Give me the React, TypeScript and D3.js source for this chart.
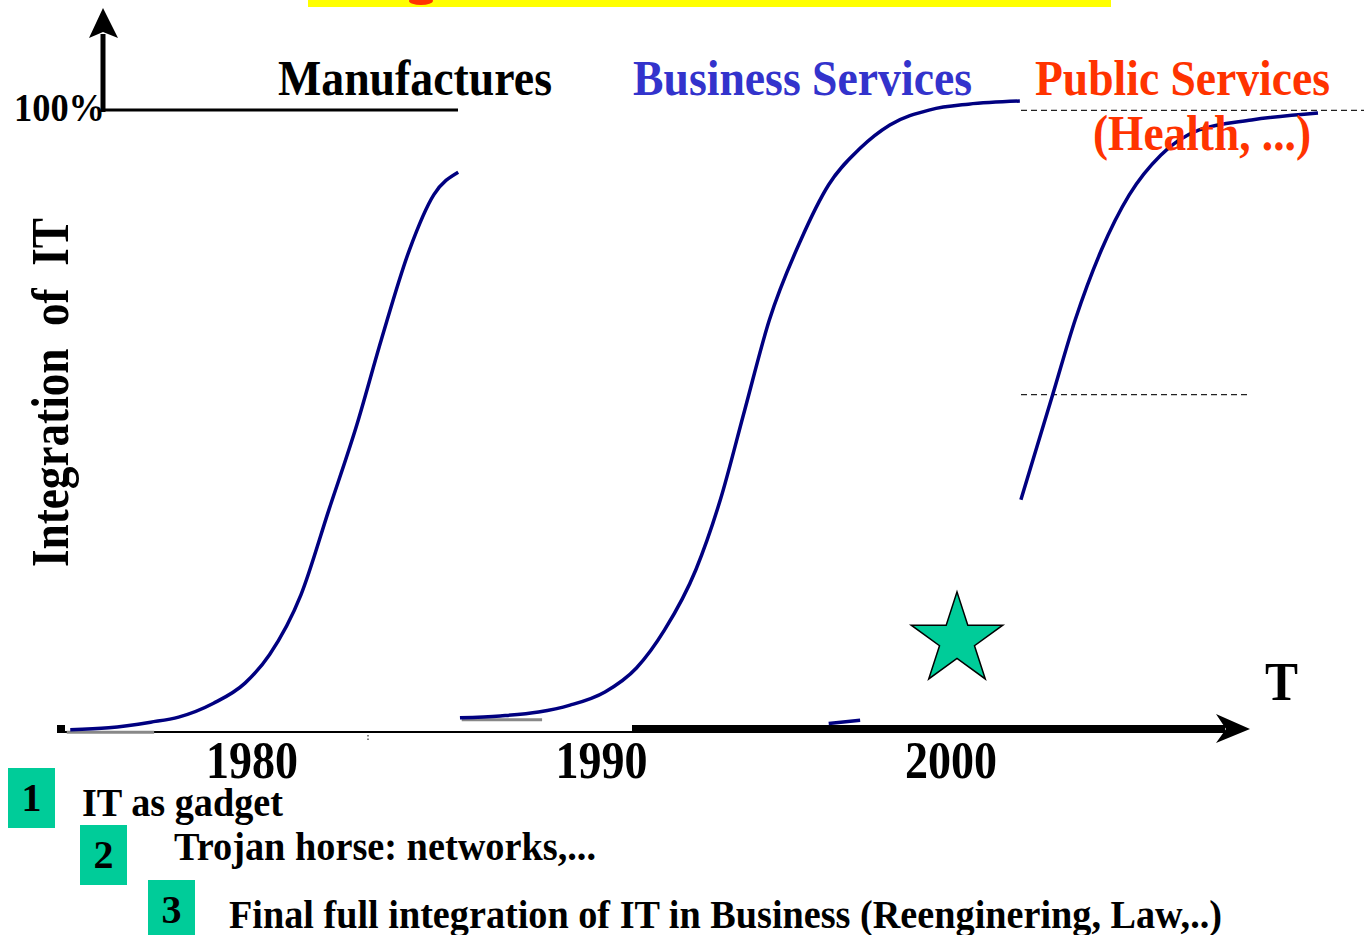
import React from 'react';
import * as d3 from 'd3';

// S-curves of IT integration (year, % integration)
const manufactures: [number, number][] = [
  [1974.8, 0.2], [1975.9, 0.5], [1977.1, 1.4], [1977.9, 2.2], [1978.9, 4.4],
  [1979.8, 7.6], [1980.5, 12.1], [1981.4, 21.6], [1982.2, 35.1], [1983.0, 48.6],
  [1983.7, 62.1], [1984.5, 76.3], [1985.2, 85.1], [1985.9, 88.7],
];
const businessServices: [number, number][] = [
  [1985.95, 2.1], [1987.1, 2.4], [1988.2, 3.0], [1989.1, 4.1], [1990.1, 6.2],
  [1991.0, 10.0], [1991.8, 16.0], [1992.7, 25.6], [1993.4, 36.7], [1994.1, 51.0],
  [1994.8, 65.2], [1995.7, 77.9], [1996.5, 86.7], [1997.4, 92.5], [1998.25, 96.2],
  [1999.4, 98.6], [2000.5, 99.5], [2001.97, 100],
];
const publicServicesTail: [number, number][] = [[1996.5, 1.2], [1997.4, 1.7]];
const publicServices: [number, number][] = [
  [2002.0, 36.7], [2002.9, 53.2], [2003.55, 65.2], [2004.3, 76.3], [2005.1, 85.1],
  [2006.0, 91.4], [2007.1, 95.4], [2008.6, 97.0], [2010.5, 98.1],
];
const shadows: [number, number][][] = [
  [[1974.7, -0.2], [1977.2, -0.2]],
  [[1986.0, 1.8], [1988.3, 1.8]],
];
const yearTicks = [1980, 1990, 2000];
const dashLevels = [{ v: 98.5, to: 2012.0 }, { v: 53.4, to: 2008.5 }];
const steps = [
  { n: '1', text: 'IT as gadget' },
  { n: '2', text: 'Trojan horse: networks,...' },
  { n: '3', text: 'Final full integration of IT in Business (Reenginering, Law,..)' },
];

const FONT = "'Liberation Serif', 'Times New Roman', Times, serif";

export default function App() {
  const x = d3.scaleLinear().domain([1980, 2000]).range([252, 951]);
  const y = d3.scaleLinear().domain([0, 100]).range([731, 101]);
  const line = d3.line<[number, number]>()
    .x(d => x(d[0]))
    .y(d => y(d[1]))
    .curve(d3.curveMonotoneX);

  const star = d3.symbol().type(d3.symbolStar).size(2600)() as string;

  const stepLayout = [
    { bx: 8, by: 768, tx: 82, ty: 816, len: 201 },
    { bx: 80, by: 825, tx: 174, ty: 860, len: 422 },
    { bx: 148, by: 880, tx: 229, ty: 928, len: 993 },
  ];

  return (
    <svg width={1364} height={935}
      style={{ position: 'absolute', left: 0, top: 0, background: '#fff', fontFamily: FONT, fontWeight: 'bold' }}>
      {/* cut-off title bar */}
      <rect x={308} y={0} width={803} height={7} fill="#ffff00" />
      <ellipse cx={421} cy={1} rx={12} ry={4} fill="#ff3300" />

      {/* y axis arrow and 100% line */}
      <line x1={103} x2={103} y1={112} y2={34} stroke="#000" strokeWidth={5} />
      <path d="M103,8 L89,38 L103,32 L118,38 Z" fill="#000" />
      <line x1={101} x2={458} y1={110} y2={110} stroke="#000" strokeWidth={3} />
      <text x={14} y={121} fontSize={40} textLength={91} lengthAdjust="spacingAndGlyphs">100%</text>

      {/* dashed reference levels */}
      {dashLevels.map((d, i) => (
        <line key={i} x1={1021} x2={x(d.to)} y1={y(d.v)} y2={y(d.v)}
          stroke="#222" strokeWidth={1.2} strokeDasharray="6,4" />
      ))}

      {/* x axis */}
      <rect x={57} y={725} width={8} height={8} fill="#000" />
      <line x1={58} x2={632} y1={732} y2={732} stroke="#000" strokeWidth={2} />
      <line x1={632} x2={1225} y1={729} y2={729} stroke="#000" strokeWidth={8} />
      <path d="M1250,729 L1216,714 L1226,729 L1216,743 Z" fill="#000" />
      <line x1={368} x2={368} y1={735} y2={741} stroke="#000" strokeWidth={1} strokeDasharray="1.5,2" />

      {/* curves */}
      {shadows.map((s, i) => (
        <path key={i} d={line(s) as string} fill="none" stroke="#888" strokeWidth={3} />
      ))}
      {[manufactures, businessServices, publicServicesTail, publicServices].map((c, i) => (
        <path key={i} d={line(c) as string} fill="none" stroke="#000080" strokeWidth={3.5} />
      ))}

      {/* series labels */}
      <text x={278} y={95} fontSize={50} textLength={274} lengthAdjust="spacingAndGlyphs" fill="#000">Manufactures</text>
      <text x={633} y={95} fontSize={50} textLength={339} lengthAdjust="spacingAndGlyphs" fill="#3333cc">Business Services</text>
      <text x={1035} y={95} fontSize={50} textLength={295} lengthAdjust="spacingAndGlyphs" fill="#ff3300">Public Services</text>
      <text x={1093} y={150} fontSize={50} textLength={218} lengthAdjust="spacingAndGlyphs" fill="#ff3300">(Health, ...)</text>

      {/* axis titles */}
      <text transform="translate(68,567) rotate(-90)" fontSize={52} textLength={349}
        lengthAdjust="spacingAndGlyphs" xmlSpace="preserve">Integration  of  IT</text>
      <text x={1265} y={700} fontSize={55} textLength={33} lengthAdjust="spacingAndGlyphs">T</text>

      {yearTicks.map(t => (
        <text key={t} x={x(t) - 46} y={778} fontSize={52} textLength={92} lengthAdjust="spacingAndGlyphs">{t}</text>
      ))}

      {/* star */}
      <path d={star} transform="translate(957,640)" fill="#00cc99" stroke="#000" strokeWidth={1.5} />

      {/* numbered steps */}
      {steps.map((s, i) => {
        const l = stepLayout[i];
        return (
          <g key={s.n}>
            <rect x={l.bx} y={l.by} width={47} height={60} fill="#00cc99" />
            <text x={l.bx + 23.5} y={l.by + 43} fontSize={40} textAnchor="middle">{s.n}</text>
            <text x={l.tx} y={l.ty} fontSize={40} textLength={l.len} lengthAdjust="spacingAndGlyphs">{s.text}</text>
          </g>
        );
      })}
    </svg>
  );
}
